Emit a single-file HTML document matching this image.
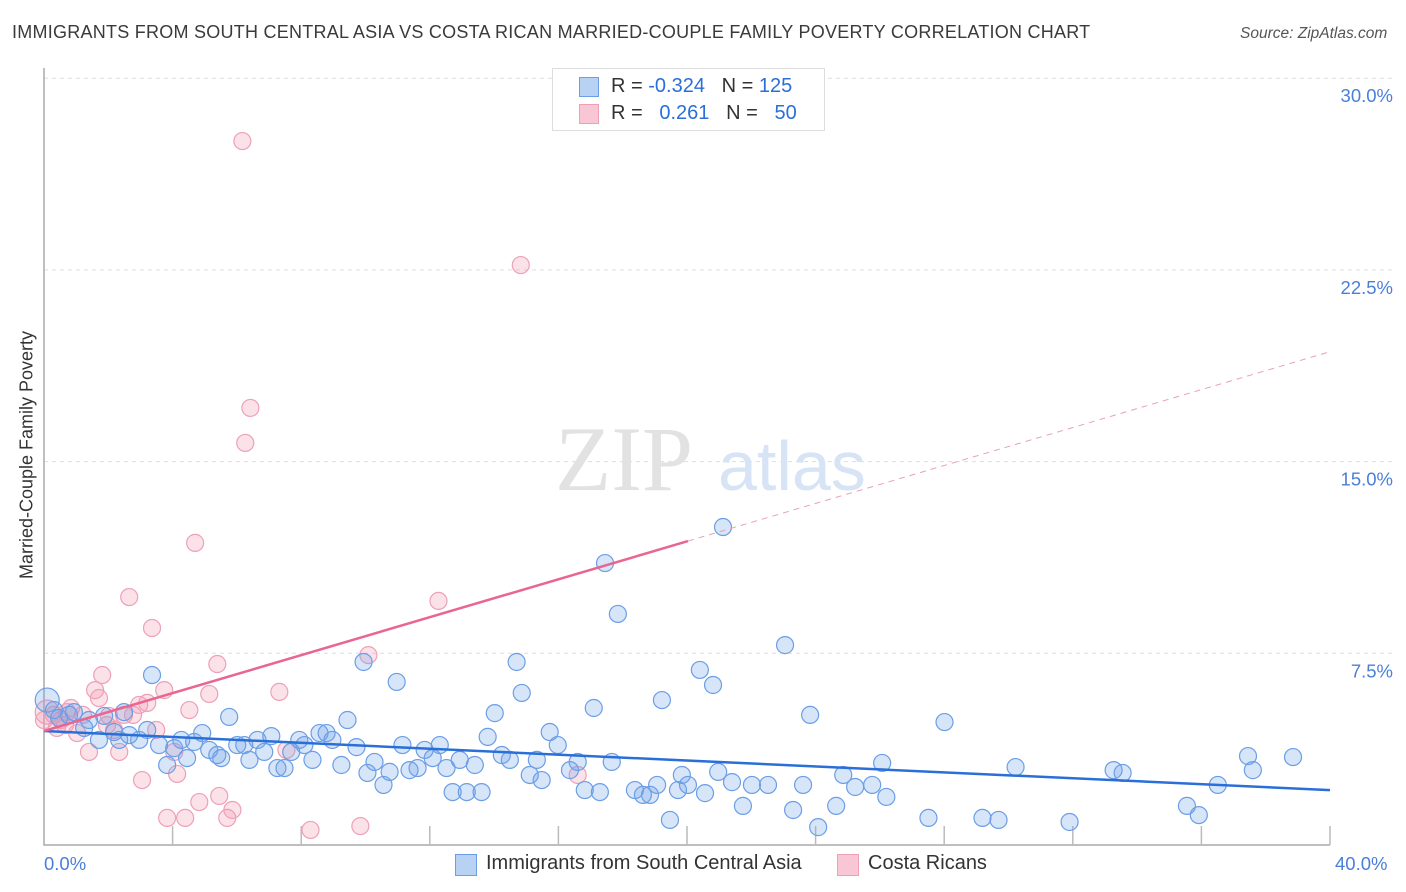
<!DOCTYPE html>
<html><head><meta charset="utf-8"><style>
body{margin:0;background:#fff;font-family:"Liberation Sans",sans-serif;}
#wrap{position:relative;width:1406px;height:892px;overflow:hidden;}
.t{position:absolute;white-space:nowrap;}
</style></head><body><div id="wrap">
<div class="t" style="left:12px;top:22px;font-size:18px;letter-spacing:0.25px;color:#3a3a3a;">IMMIGRANTS FROM SOUTH CENTRAL ASIA VS COSTA RICAN MARRIED-COUPLE FAMILY POVERTY CORRELATION CHART</div>
<div class="t" style="left:1240px;top:25px;font-size:15.5px;color:#555;font-style:italic;">Source: ZipAtlas.com</div>
<svg id="svg" width="1406" height="892" style="position:absolute;left:0;top:0"></svg>
</div>
<script>
const xTicksPct=[0,4,8,12,16,20,24,28,32,36,40];
const yTicks=[7.5,15,22.5,30];
const yTickLabels=["7.5%","15.0%","22.5%","30.0%"];
const blueX=[0.1,0.31,0.47,0.78,0.93,1.4,1.25,1.71,1.87,2.18,2.34,2.49,2.65,2.96,3.21,3.36,3.58,3.83,4.05,4.27,4.45,4.67,4.92,5.14,5.39,5.51,5.76,6.01,6.23,6.39,6.64,6.85,7.07,7.26,7.48,7.69,7.94,8.1,8.35,8.57,8.79,8.97,9.25,9.44,9.72,9.94,10.06,10.28,10.56,10.75,10.97,11.15,11.37,11.62,11.84,12.09,12.31,12.52,12.71,12.93,13.15,13.4,13.61,13.8,14.02,14.24,14.49,14.7,14.86,15.11,15.33,15.48,15.73,15.98,16.36,16.6,16.82,17.1,17.29,17.45,17.66,17.85,18.38,18.63,18.85,19.07,19.22,19.47,19.72,19.84,20.03,20.4,20.56,20.81,20.97,21.12,21.4,21.74,22.02,22.52,23.05,23.3,23.61,23.83,24.08,24.64,24.86,25.23,25.76,26.07,26.2,27.51,28.01,29.19,29.69,30.22,31.9,33.27,33.55,35.55,35.92,36.51,37.45,37.6,38.85];
const blueY=[5.67,5.28,4.97,5.09,5.2,4.89,4.58,4.11,5.05,4.42,4.11,5.2,4.3,4.11,4.5,6.65,3.91,3.13,3.79,4.11,3.4,4.03,4.38,3.72,3.52,3.4,5.01,3.91,3.91,3.33,4.11,3.64,4.26,3.01,3.01,3.64,4.11,3.91,3.33,4.38,4.38,4.11,3.13,4.89,3.83,7.16,2.82,3.25,2.35,2.86,6.38,3.91,2.93,3.01,3.72,3.4,3.91,3.01,2.07,3.33,2.07,3.13,2.07,4.23,5.16,3.52,3.33,7.16,5.95,2.74,3.33,2.54,4.42,3.91,2.93,3.25,2.15,5.36,2.07,11.03,3.25,9.04,2.15,1.96,1.96,2.35,5.67,0.98,2.15,2.74,2.35,6.85,2.03,6.26,2.86,12.44,2.46,1.53,2.35,2.35,7.82,1.37,2.35,5.09,0.7,1.53,2.74,2.27,2.35,3.21,1.88,1.06,4.81,1.06,0.98,3.05,0.9,2.93,2.82,1.53,1.17,2.35,3.48,2.93,3.44];
const pinkX=[0.1,0.31,0.53,0.65,0.84,1.03,1.21,1.4,1.59,1.71,1.81,1.96,2.18,2.34,2.49,2.65,2.77,2.96,3.05,3.21,3.36,3.49,3.74,3.83,4.05,4.14,4.39,4.52,4.7,4.83,5.14,5.39,5.45,5.7,5.86,6.17,6.26,6.42,7.32,7.54,8.29,9.84,10.09,12.27,14.83,16.6,0.4,0.72,2.02,0];
const pinkY=[5.2,5.09,4.89,4.69,5.36,4.38,5.09,3.64,6.06,5.75,6.65,4.69,4.5,3.64,5.09,9.7,5.09,5.48,2.54,5.56,8.49,4.5,6.06,1.06,3.64,2.78,1.06,5.28,11.82,1.68,5.91,7.08,1.92,1.06,1.37,27.54,15.73,17.1,5.99,3.72,0.59,0.74,7.43,9.55,22.69,2.74,4.58,5.2,5.05,4.89];
const blueLine=[4.46,-0.0578]; // intercept, slope
const pinkLine=[4.46,0.371];
const pinkSolidEnd=20.03;

const svg=document.getElementById('svg');
const NS='http://www.w3.org/2000/svg';
const X=v=>44+v*32.15, Y=v=>845-v*25.56;
function mk(tag,at,parent){const e=document.createElementNS(NS,tag);for(const k in at)e.setAttribute(k,at[k]);(parent||svg).appendChild(e);return e;}
yTicks.forEach((t,i)=>{
 const g=mk('line',{x1:44,x2:1394,y1:Y(t),y2:Y(t),stroke:'#ddd','stroke-dasharray':'4,4'});
 
 
 const tx=mk('text',{x:1393,y:Y(t)+24,'text-anchor':'end','font-size':18.5,fill:'#4a7fd8','font-family':'Liberation Sans'});
 tx.textContent=yTickLabels[i];
 
 
});
const ax=mk('path',{d:'M44,68 V845 H1330',stroke:'#aaa','stroke-width':1.5,fill:'none'});


xTicksPct.slice(1).forEach(t=>{const l=mk('line',{x1:X(t),x2:X(t),y1:826,y2:845,stroke:'#bbb','stroke-width':1.5});
 
 });
const wm=mk('text',{x:555,y:490,'font-size':92,fill:'#e2e2e2','font-family':'Liberation Serif'});wm.textContent='ZIP';


const wm2=mk('text',{x:718,y:490,'font-size':70,fill:'#d6e4f5','font-family':'Liberation Sans'});wm2.textContent='atlas';


function pts(xs,ys,fill,stroke,name){xs.forEach((x,i)=>{const c=mk('circle',{cx:X(x),cy:Y(ys[i]),r:(i===0?12:8.5),fill:fill,stroke:stroke,'stroke-width':1.2});
 
 });}
pts(pinkX,pinkY,'rgba(240,150,175,0.28)','#eea0b8','costa-rican-point');
pts(blueX,blueY,'rgba(110,160,230,0.28)','#6b9ee6','south-central-asia-point');
const bl=mk('line',{x1:X(0),y1:Y(blueLine[0]),x2:X(40),y2:Y(blueLine[0]+blueLine[1]*40),stroke:'#2a6fd8','stroke-width':2.5});


const pl=mk('line',{x1:X(0),y1:Y(pinkLine[0]),x2:X(pinkSolidEnd),y2:Y(pinkLine[0]+pinkLine[1]*pinkSolidEnd),stroke:'#e8668f','stroke-width':2.5});


const pd=mk('line',{x1:X(pinkSolidEnd),y1:Y(pinkLine[0]+pinkLine[1]*pinkSolidEnd),x2:X(40),y2:Y(pinkLine[0]+pinkLine[1]*40),stroke:'#eaa0b8','stroke-width':1,'stroke-dasharray':'6,5'});


</script>
<div class="t" style="font-size:18px;color:#333;transform:translate(0,-50%) rotate(-90deg);transform-origin:center;left:-108px;top:455px;width:270px;text-align:center;">Married-Couple Family Poverty</div>
<div class="t" style="left:44px;top:853px;font-size:18.5px;color:#4a7fd8;">0.0%</div>
<div class="t" style="left:1335px;top:853px;font-size:18.5px;color:#4a7fd8;">40.0%</div>
<div style="position:absolute;left:552px;top:68px;width:271px;height:61px;border:1px solid #ddd;background:#fff;font-size:20px;">
 <div style="position:absolute;left:26px;top:8px;width:18px;height:18px;background:#b8d2f4;border:1px solid #6b9ee6;"></div>
 <div class="t" style="left:58px;top:6px;color:#333;">R = <span style="color:#2a6fd8">-0.324</span>&nbsp;&nbsp;&nbsp;N = <span style="color:#2a6fd8">125</span></div>
 <div style="position:absolute;left:26px;top:35px;width:18px;height:18px;background:#f8c6d4;border:1px solid #eea0b8;"></div>
 <div class="t" style="left:58px;top:33px;color:#333;">R = &nbsp;&nbsp;<span style="color:#2a6fd8">0.261</span>&nbsp;&nbsp;&nbsp;N = &nbsp;&nbsp;<span style="color:#2a6fd8">50</span></div>
</div>
<div style="position:absolute;left:455px;top:854px;width:20px;height:20px;background:#b8d2f4;border:1px solid #6b9ee6;"></div>
<div class="t" style="left:486px;top:852px;font-size:20px;color:#333;">Immigrants from South Central Asia</div>
<div style="position:absolute;left:837px;top:854px;width:20px;height:20px;background:#f8c6d4;border:1px solid #eea0b8;"></div>
<div class="t" style="left:868px;top:852px;font-size:20px;color:#333;">Costa Ricans</div>
</body></html>
